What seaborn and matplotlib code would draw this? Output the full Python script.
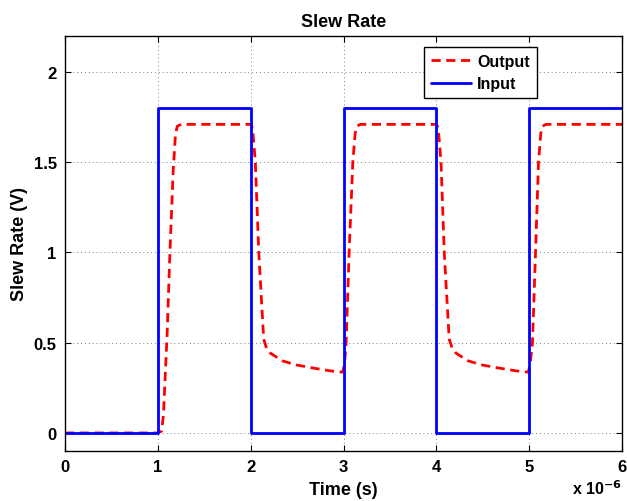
import matplotlib
matplotlib.use("Agg")
import matplotlib.pyplot as plt
import seaborn as sns
import pandas as pd

# Time axis in units of 1e-6 s
input_time = [0, 1, 1, 2, 2, 3, 3, 4, 4, 5, 5, 6]
input_volts = [0, 0, 1.8, 1.8, 0, 0, 1.8, 1.8, 0, 0, 1.8, 1.8]

output_time = [
    0.0, 1.0, 1.04, 1.06, 1.10, 1.13, 1.165, 1.19, 1.21, 1.25,
    2.0, 2.02, 2.05, 2.087, 2.14, 2.17, 2.21, 2.34, 2.48, 2.68, 2.86, 2.99,
    3.01, 3.028, 3.06, 3.10, 3.125, 3.145, 3.18,
    4.0, 4.02, 4.05, 4.085, 4.138, 4.17, 4.21, 4.34, 4.48, 4.68, 4.86, 4.99,
    5.01, 5.035, 5.068, 5.10, 5.125, 5.145, 5.18, 6.0,
]
output_volts = [
    0.0, 0.0, 0.01, 0.1, 0.55, 1.0, 1.45, 1.66, 1.70, 1.71,
    1.71, 1.69, 1.50, 1.0, 0.52, 0.47, 0.443, 0.40, 0.378, 0.359, 0.344, 0.337,
    0.38, 0.5, 1.0, 1.5, 1.66, 1.70, 1.71,
    1.71, 1.69, 1.50, 1.0, 0.52, 0.47, 0.443, 0.40, 0.378, 0.359, 0.344, 0.337,
    0.38, 0.5, 1.0, 1.5, 1.66, 1.70, 1.71, 1.71,
]

x_ticks = [0, 1, 2, 3, 4, 5, 6]
y_ticks = [0, 0.5, 1, 1.5, 2]
y_tick_labels = ["0", "0.5", "1", "1.5", "2"]

sns.set_style("ticks")
plt.rcParams["font.family"] = ["Liberation Sans", "DejaVu Sans"]
plt.rcParams["font.weight"] = "bold"
plt.rcParams["mathtext.default"] = "bf"
plt.rcParams["text.color"] = "black"
plt.rcParams["axes.labelcolor"] = "black"
plt.rcParams["xtick.color"] = "black"
plt.rcParams["ytick.color"] = "black"

out_df = pd.DataFrame({"t": output_time, "v": output_volts})
in_df = pd.DataFrame({"t": input_time, "v": input_volts})

fig = plt.figure(figsize=(6.27, 5.02), dpi=100)
ax = fig.add_axes([0.1037, 0.0996, 0.8884, 0.8268])

sns.lineplot(data=out_df, x="t", y="v", ax=ax, sort=False, estimator=None,
             color="#ff0000", lw=2, label="Output")
ax.lines[-1].set_dashes((3.3, 2.0))
sns.lineplot(data=in_df, x="t", y="v", ax=ax, sort=False, estimator=None,
             color="#0000ff", lw=2, label="Input")

ax.set_xlim(0, 6)
ax.set_ylim(-0.1, 2.2)
ax.set_xticks(x_ticks)
ax.set_yticks(y_ticks)
ax.set_yticklabels(y_tick_labels)
ax.grid(True, linestyle=(0, (1, 3)), color="0.5", lw=0.7)
ax.tick_params(direction="in", length=4, width=0.8, top=True, right=True,
               labelsize=12, pad=6)
for lab in ax.get_xticklabels() + ax.get_yticklabels():
    lab.set_fontweight("bold")
for s in ax.spines.values():
    s.set_visible(True)
    s.set_linewidth(1.0)
    s.set_color("black")

ax.set_title("Slew Rate", fontsize=13, fontweight="bold", pad=7)
ax.set_xlabel("Time (s)", fontsize=13, fontweight="bold", labelpad=5)
ax.set_ylabel("Slew Rate (V)", fontsize=13, fontweight="bold", labelpad=4)

fig.text(0.992, 0.008, r"x 10$^{-6}$", ha="right", va="bottom",
         fontsize=11.5, fontweight="bold")

leg = ax.legend(loc="upper right", bbox_to_anchor=(0.847, 0.974),
                borderaxespad=0, fancybox=False, framealpha=1,
                edgecolor="black", handlelength=2.5, borderpad=0.45,
                labelspacing=0.45, handletextpad=0.35,
                prop={"weight": "bold", "size": 11.5})
leg.get_frame().set_linewidth(1.0)

fig.savefig("out.png", dpi=100)
